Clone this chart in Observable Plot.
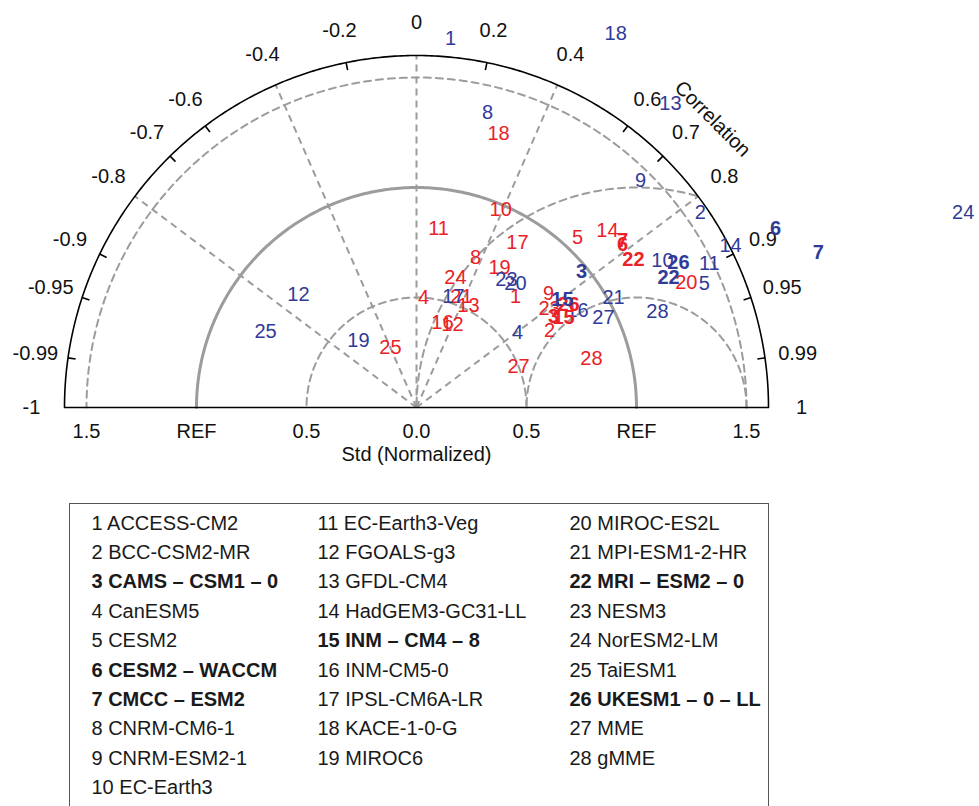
<!DOCTYPE html>
<html><head><meta charset="utf-8">
<script src="https://cdn.jsdelivr.net/npm/d3@7"></script>
<script src="https://cdn.jsdelivr.net/npm/@observablehq/plot@0.6"></script>
<style>
body{margin:0;background:#fff;font-family:"Liberation Sans",Arial,Helvetica,sans-serif;}
#wrap{position:relative;width:979px;height:806px;overflow:hidden;background:#fff;}
#chart{position:absolute;left:0;top:0;}
#legend{position:absolute;left:69px;top:503px;width:700px;height:330px;border:1.5px solid #555;box-sizing:border-box;}
.item{position:absolute;font-size:20px;line-height:24px;color:#1a1a1a;white-space:nowrap;transform:translateY(-50%);}
.b{font-weight:bold;}
</style></head><body>
<div id="wrap"><div id="chart"></div><div id="legend"></div></div>
<script>
// ---- data ----
const modelNames = ["ACCESS-CM2","BCC-CSM2-MR","CAMS – CSM1 – 0","CanESM5","CESM2","CESM2 – WACCM","CMCC – ESM2","CNRM-CM6-1","CNRM-ESM2-1","EC-Earth3","EC-Earth3-Veg","FGOALS-g3","GFDL-CM4","HadGEM3-GC31-LL","INM – CM4 – 8","INM-CM5-0","IPSL-CM6A-LR","KACE-1-0-G","MIROC6","MIROC-ES2L","MPI-ESM1-2-HR","MRI – ESM2 – 0","NESM3","NorESM2-LM","TaiESM1","UKESM1 – 0 – LL","MME","gMME"];
const boldIds = [3,6,7,15,22,26];
const redStd  = [0.676,0.699,0.748,0.501,1.064,1.194,1.205,0.733,0.793,0.978,0.820,0.411,0.520,1.184,0.784,0.404,0.879,1.300,0.740,1.352,0.544,1.194,0.754,0.617,0.297,0.835,0.500,0.826];
const redCorr = [0.666,0.865,0.833,0.064,0.688,0.784,0.777,0.366,0.757,0.391,0.122,0.398,0.454,0.733,0.853,0.292,0.522,0.287,0.510,0.907,0.376,0.826,0.802,0.287,-0.398,0.828,0.928,0.963];
const blueStd  = [1.684,1.566,0.972,0.572,1.425,1.824,1.958,1.379,1.450,1.303,1.484,0.743,1.801,1.606,0.825,0.854,0.532,1.926,0.403,0.721,1.026,1.289,0.711,2.638,0.768,1.361,0.943,1.179];
const blueCorr = [0.092,0.824,0.772,0.803,0.918,0.895,0.933,0.234,0.702,0.858,0.897,-0.722,0.641,0.889,0.804,0.857,0.316,0.470,-0.655,0.624,0.873,0.889,0.575,0.942,-0.893,0.875,0.901,0.929];
const corrTickLabels = [-1,-0.99,-0.95,-0.9,-0.8,-0.7,-0.6,-0.4,-0.2,0,0.2,0.4,0.6,0.7,0.8,0.9,0.95,0.99,1];
const corrMinorTicks = [-0.99,-0.95,-0.9,-0.7,-0.6,-0.2,0.2,0.6,0.7,0.9,0.95,0.99];
const corrRadials = [-0.8,-0.4,0,0.4,0.8];
const stdTicks = [0,0.5,1,1.5];
const stdTickText = ["0.0","0.5","REF","1.5"];
const stdArcs = [0.5,1,1.5];
const rmsArcs = [0.5,1];
const maxStd = 1.6;

// ---- helpers ----
const RED = "#ea2228", BLUE = "#303b98", GRAY = "#9c9c9c";
const sinOf = c => Math.sqrt(Math.max(0, 1 - c*c));
function pts(std, corr, color) {
  return std.map((s, i) => ({id: i+1, x: s*corr[i], y: s*sinOf(corr[i]), color, bold: boldIds.includes(i+1)}));
}
const redPts = pts(redStd, redCorr, RED), bluePts = pts(blueStd, blueCorr, BLUE);
const allPts = [...redPts, ...bluePts];
function arc(cx, r, n=240) {
  const out = [];
  for (let k = 0; k <= n; k++) {
    const a = Math.PI * k / n;
    const x = cx + r*Math.cos(a), y = r*Math.sin(a);
    if (Math.hypot(x, y) <= maxStd + 1e-9) out.push({x, y});
  }
  return out;
}
const stdLabels = [];
stdTicks.forEach((v, i) => { stdLabels.push({x: v, t: stdTickText[i]}); if (v > 0) stdLabels.push({x: -v, t: stdTickText[i]}); });

// ---- geometry of frame ----
const W = 979, H = 470, OX = 416, OY = 407, U = 220;
const font = "Liberation Sans, Arial, Helvetica, sans-serif";
const dash = "7,5";

const marks = [];
stdArcs.forEach(r => marks.push(Plot.line(arc(0, r), {x: "x", y: "y", stroke: GRAY, strokeWidth: r === 1 ? 3 : 2, strokeDasharray: r === 1 ? null : dash})));
rmsArcs.forEach(r => marks.push(Plot.line(arc(1, r), {x: "x", y: "y", stroke: GRAY, strokeWidth: 2, strokeDasharray: dash})));
marks.push(Plot.link(corrRadials, {x1: () => 0, y1: () => 0, x2: c => maxStd*c, y2: c => maxStd*sinOf(c), stroke: GRAY, strokeWidth: 2, strokeDasharray: dash}));
marks.push(Plot.line(arc(0, maxStd, 360), {x: "x", y: "y", stroke: "#000", strokeWidth: 1.6}));
marks.push(Plot.link([0], {x1: () => -maxStd, y1: () => 0, x2: () => maxStd, y2: () => 0, stroke: "#000", strokeWidth: 1.6}));
marks.push(Plot.link(corrMinorTicks, {x1: c => maxStd*c, y1: c => maxStd*sinOf(c), x2: c => (maxStd-0.035)*c, y2: c => (maxStd-0.035)*sinOf(c), stroke: "#000", strokeWidth: 1.6}));
marks.push(Plot.text(corrTickLabels, {x: c => 1.75*c, y: c => 1.75*sinOf(c), text: c => String(c), fontSize: 20, fill: "#111"}));
marks.push(Plot.text(stdLabels, {x: "x", y: () => 0, text: "t", dy: 24, fontSize: 20, fill: "#111"}));
marks.push(Plot.text(["Std (Normalized)"], {x: () => 0, y: () => 0, text: d => d, dy: 47, fontSize: 20, fill: "#111"}));
marks.push(Plot.text(["Correlation"], {x: () => 1.88*0.716, y: () => 1.88*sinOf(0.716), text: d => d, rotate: 45, fontSize: 20, fill: "#111"}));
// model points (numbers as markers)
marks.push(Plot.text(allPts.filter(d => !d.bold), {x: "x", y: "y", text: "id", fill: "color", fontSize: 20}));
marks.push(Plot.text(allPts.filter(d => d.bold), {x: "x", y: "y", text: "id", fill: "color", fontSize: 20, fontWeight: "bold"}));

const chart = Plot.plot({
  width: W, height: H, margin: 0,
  style: {fontFamily: font, background: "#fff"},
  x: {domain: [-OX/U, (W-OX)/U], range: [0, W], axis: null},
  y: {domain: [-(H-OY)/U, OY/U], range: [H, 0], axis: null},
  color: {type: "identity"},
  marks
});
document.getElementById("chart").appendChild(chart);

// ---- legend ----
const legend = document.getElementById("legend");
const colX = [92, 318, 570], rowY0 = 523, rowH = 29.4;
const colStarts = [0, 10, 19];
modelNames.forEach((name, i) => {
  const col = i < 10 ? 0 : i < 19 ? 1 : 2;
  const row = i - colStarts[col];
  const el = document.createElement("div");
  el.className = "item" + (boldIds.includes(i+1) ? " b" : "");
  el.textContent = (i+1) + " " + name;
  el.style.left = (colX[col] - 69 - 1.5) + "px";
  el.style.top = (rowY0 + row*rowH - 503 - 1.5) + "px";
  legend.appendChild(el);
});
</script>
</body></html>
